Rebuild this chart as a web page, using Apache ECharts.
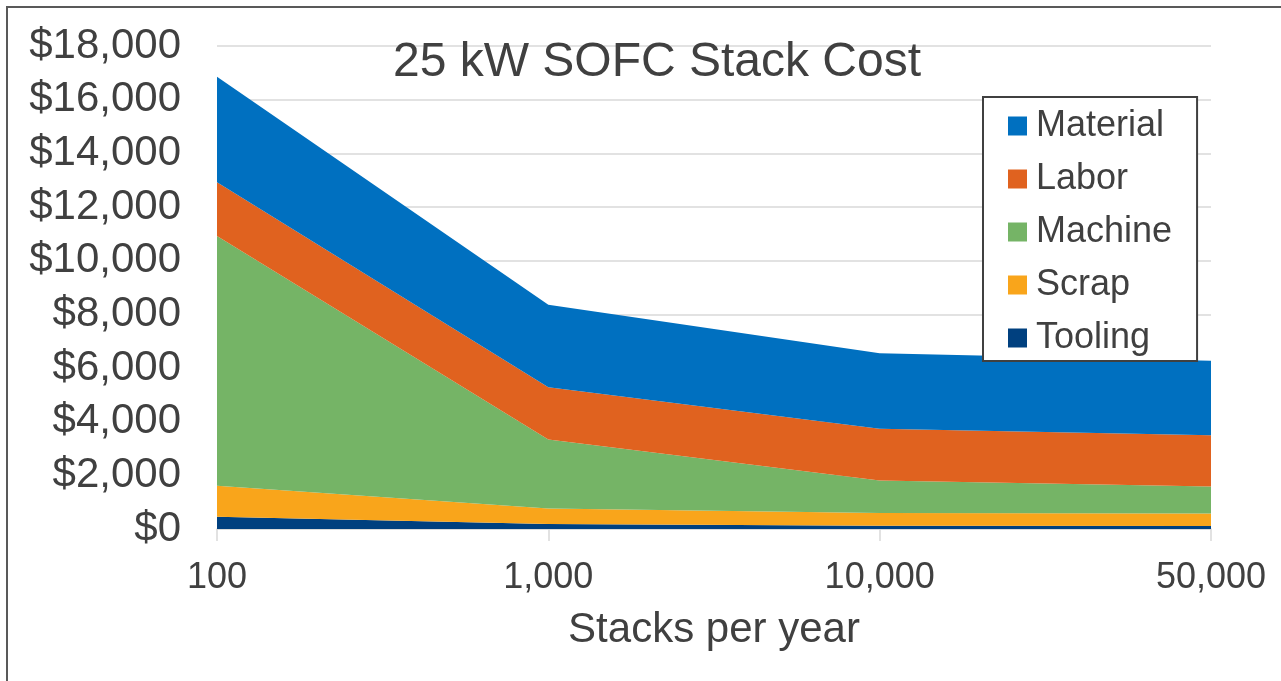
<!DOCTYPE html>
<html>
<head>
<meta charset="utf-8">
<script src="https://cdn.jsdelivr.net/npm/echarts@6/dist/echarts.min.js"></script>
<style>
html,body{margin:0;padding:0;background:#fff;}
#chart{width:1281px;height:681px;}
</style>
</head>
<body>
<div id="chart"></div>
<script>
var categories = ['100', '1,000', '10,000', '50,000'];
var tooling  = [460, 190, 120, 110];
var scrap    = [1150, 570, 480, 470];
var machine  = [9310, 2580, 1210, 1000];
var labor    = [2000, 1940, 1930, 1910];
var material = [3930, 3080, 2810, 2780];
var yTicks = {min: 0, max: 18000, interval: 2000};

var textColor = '#404040';
var fontFamily = 'Liberation Sans, Arial, sans-serif';

function areaSeries(name, data, color) {
  return {
    name: name, type: 'line', stack: 'total', data: data,
    showSymbol: false, symbol: 'none',
    lineStyle: {width: 0, color: color},
    itemStyle: {color: color},
    areaStyle: {color: color, opacity: 1}
  };
}

var chart = echarts.init(document.getElementById('chart'));
chart.setOption({
  animation: false,
  backgroundColor: '#fff',
  textStyle: {fontFamily: fontFamily},
  title: {
    text: '25 kW SOFC Stack Cost',
    left: 652, top: 58, textAlign: 'center', textVerticalAlign: 'middle',
    textStyle: {fontSize: 48, fontWeight: 'normal', color: textColor, fontFamily: fontFamily}
  },
  graphic: [{
    type: 'rect', silent: true, z: -1,
    shape: {x: 7, y: 7, width: 1400, height: 800},
    style: {fill: null, stroke: '#595959', lineWidth: 2}
  }],
  legend: {
    left: 983, top: 97, orient: 'vertical',
    data: ['Material', 'Labor', 'Machine', 'Scrap', 'Tooling'],
    icon: 'rect', itemWidth: 19, itemHeight: 19, itemGap: 17,
    padding: [11, 25, 5, 25],
    borderColor: '#404040', borderWidth: 2, backgroundColor: '#fff',
    textStyle: {fontSize: 36, lineHeight: 36, color: textColor, fontFamily: fontFamily, padding: [0, 0, 0, 4]}
  },
  grid: {left: 217, right: 70, top: 46, bottom: 152, containLabel: false},
  xAxis: {
    type: 'category', data: categories, boundaryGap: false,
    name: 'Stacks per year', nameLocation: 'middle', nameGap: 80,
    nameTextStyle: {fontSize: 42, color: textColor, fontFamily: fontFamily},
    axisLine: {lineStyle: {color: '#d9d9d9', width: 1.5}},
    axisTick: {show: true, length: 12, lineStyle: {color: '#d9d9d9', width: 1.5}},
    axisLabel: {fontSize: 36, color: textColor, margin: 31, fontFamily: fontFamily},
    splitLine: {show: false}
  },
  yAxis: {
    type: 'value', min: yTicks.min, max: yTicks.max, interval: yTicks.interval,
    axisLine: {show: false}, axisTick: {show: false},
    axisLabel: {
      fontSize: 42, color: textColor, margin: 36, fontFamily: fontFamily,
      formatter: function (v) { return '$' + v.toLocaleString('en-US'); }
    },
    splitLine: {lineStyle: {color: '#d9d9d9', width: 1.5}}
  },
  series: [
    areaSeries('Tooling', tooling, '#00407F'),
    areaSeries('Scrap', scrap, '#F9A51B'),
    areaSeries('Machine', machine, '#75B466'),
    areaSeries('Labor', labor, '#E0621F'),
    areaSeries('Material', material, '#0070C0')
  ]
});
</script>
</body>
</html>
